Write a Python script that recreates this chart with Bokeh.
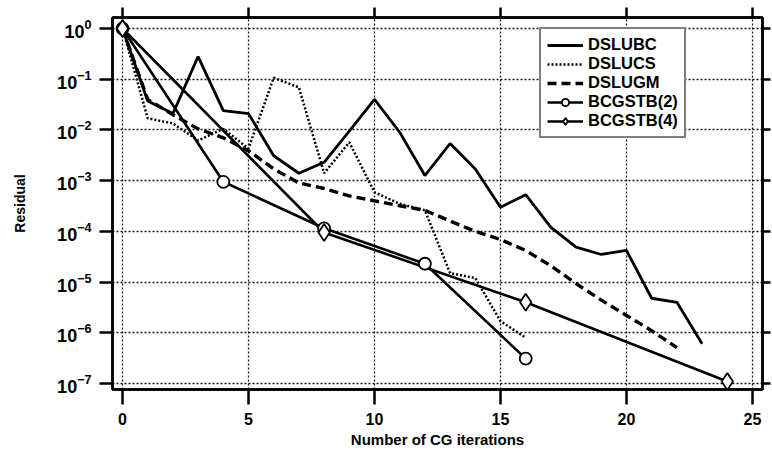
from bokeh.plotting import figure
from bokeh.models import (Range1d, FixedTicker, LogTickFormatter, LinearAxis, LogAxis,
                          Legend, LegendItem)
from bokeh.embed import file_html
from bokeh.resources import INLINE

# ---- data ----
it_bc = list(range(0, 24))
dslubc = [1.0, 0.037, 0.021, 0.28, 0.024, 0.021, 0.0031, 0.0014, 0.0023, 0.0095,
          0.04, 0.009, 0.00126, 0.0054, 0.0017, 0.0003, 0.00053, 0.00012, 4.9e-5,
          3.5e-5, 4.2e-5, 4.8e-6, 4.0e-6, 6.1e-7]

it_cs = list(range(0, 17))
dslucs = [1.0, 0.017, 0.0134, 0.0062, 0.0105, 0.0043, 0.107, 0.069, 0.0014, 0.0057,
          0.00059, 0.00035, 0.00026, 1.5e-5, 1.2e-5, 1.7e-6, 8e-7]

it_gm = list(range(0, 23))
dslugm = [1.0, 0.04, 0.02, 0.0105, 0.007, 0.0039, 0.0017, 0.0009, 0.0007, 0.0005,
          0.0004, 0.00032, 0.00026, 0.00016, 0.0001, 6.9e-5, 4.2e-5, 2.1e-5, 9.3e-6,
          4.4e-6, 2.2e-6, 1.1e-6, 5.1e-7]

it_b2 = [0, 4, 8, 12, 16]
bcgstb2 = [1.0, 0.00095, 1.15e-4, 2.3e-5, 3.1e-7]

it_b4 = [0, 8, 16, 24]
bcgstb4 = [1.0, 9.5e-5, 4.0e-6, 1.1e-7]

x_ticks = [0, 5, 10, 15, 20, 25]
y_ticks = [1e-7, 1e-6, 1e-5, 1e-4, 1e-3, 1e-2, 1e-1, 1e0]

FONT = "Liberation Sans"

p = figure(width=772, height=456, y_axis_type="log",
           x_range=Range1d(-0.397, 25.397),
           y_range=Range1d(10 ** -7.118, 10 ** 0.217),
           output_backend="svg", toolbar_location=None,
           min_border_left=112, min_border_right=10,
           min_border_top=17, min_border_bottom=67,
           background_fill_color="white", border_fill_color="white")

p.outline_line_color = "black"
p.outline_line_width = 2.5

# axes
p.xaxis.ticker = FixedTicker(ticks=x_ticks)
p.yaxis.ticker = FixedTicker(ticks=y_ticks)
p.yaxis.formatter = LogTickFormatter()
for ax in (p.xaxis[0], p.yaxis[0]):
    ax.axis_line_width = 2.5
    ax.axis_line_color = "black"
    ax.major_tick_line_width = 2.5
    ax.major_tick_line_color = "black"
    ax.major_tick_in = 0
    ax.minor_tick_line_color = None
    ax.major_label_text_font = FONT
    ax.major_label_text_font_style = "bold"
    ax.major_label_text_color = "black"
    ax.axis_label_text_font = FONT
    ax.axis_label_text_font_style = "bold"
    ax.axis_label_text_color = "black"

p.xaxis.major_label_text_font_size = "16px"
p.xaxis.major_tick_out = 15
p.xaxis.major_label_standoff = 8
p.xaxis.axis_label = "Number of CG iterations"
p.xaxis.axis_label_text_font_size = "15px"
p.xaxis.axis_label_standoff = 3

p.yaxis.major_label_text_font_size = "18px"
p.yaxis.major_tick_out = 13
p.yaxis.major_label_standoff = 8
p.yaxis.axis_label = "Residual"
p.yaxis.axis_label_text_font_size = "14px"
p.yaxis.axis_label_standoff = 26

# top and right tick-only axes (labels not drawn)
top_ax = LinearAxis(ticker=FixedTicker(ticks=x_ticks), major_label_text_font_size="1px",
                    major_label_text_color=None,
                    major_label_standoff=0, major_tick_out=10, major_tick_in=0,
                    major_tick_line_width=2.5, axis_line_width=2.5,
                    minor_tick_line_color=None)
p.add_layout(top_ax, "above")
right_ax = LogAxis(ticker=FixedTicker(ticks=y_ticks), major_label_text_font_size="1px",
                   major_label_text_color=None,
                   major_label_standoff=0, major_tick_out=8, major_tick_in=0,
                   major_tick_line_width=2.5, axis_line_width=2.5,
                   minor_tick_line_color=None)
p.add_layout(right_ax, "right")

# grid
for g in (p.xgrid[0], p.ygrid[0]):
    g.grid_line_color = "black"
    g.grid_line_dash = "2 2"
    g.grid_line_width = 1.3
    g.grid_line_alpha = 0.9
p.xgrid.ticker = FixedTicker(ticks=x_ticks)
p.ygrid.ticker = FixedTicker(ticks=y_ticks)

# series
r_bc = p.line(it_bc, dslubc, line_color="black", line_width=2.8)
r_cs = p.line(it_cs, dslucs, line_color="black", line_width=2.5, line_dash="2 2")
r_gm = p.line(it_gm, dslugm, line_color="black", line_width=3.4, line_dash="9 5")
r_b2l = p.line(it_b2, bcgstb2, line_color="black", line_width=2.6)
r_b4l = p.line(it_b4, bcgstb4, line_color="black", line_width=2.6)
r_b2m = p.scatter(it_b2, bcgstb2, marker="circle", size=12, fill_color="white",
                  line_color="black", line_width=1.8)
r_b4m = p.scatter(it_b4, bcgstb4, marker="diamond", size=17, fill_color="white",
                  line_color="black", line_width=1.8)

legend = Legend(items=[
    LegendItem(label="DSLUBC", renderers=[r_bc]),
    LegendItem(label="DSLUCS", renderers=[r_cs]),
    LegendItem(label="DSLUGM", renderers=[r_gm]),
    LegendItem(label="BCGSTB(2)", renderers=[r_b2l, r_b2m]),
    LegendItem(label="BCGSTB(4)", renderers=[r_b4l, r_b4m]),
], location=(427, 251))
legend.border_line_color = "black"
legend.border_line_width = 2.5
legend.background_fill_color = "white"
legend.background_fill_alpha = 1.0
legend.padding = 6
legend.spacing = 0
legend.margin = 0
legend.glyph_width = 36
legend.glyph_height = 18
legend.label_height = 18
legend.label_standoff = 5
legend.label_text_font = FONT
legend.label_text_font_style = "bold"
legend.label_text_font_size = "16.5px"
legend.label_text_color = "black"
p.add_layout(legend)

open("out.html", "w").write(file_html(p, INLINE))
